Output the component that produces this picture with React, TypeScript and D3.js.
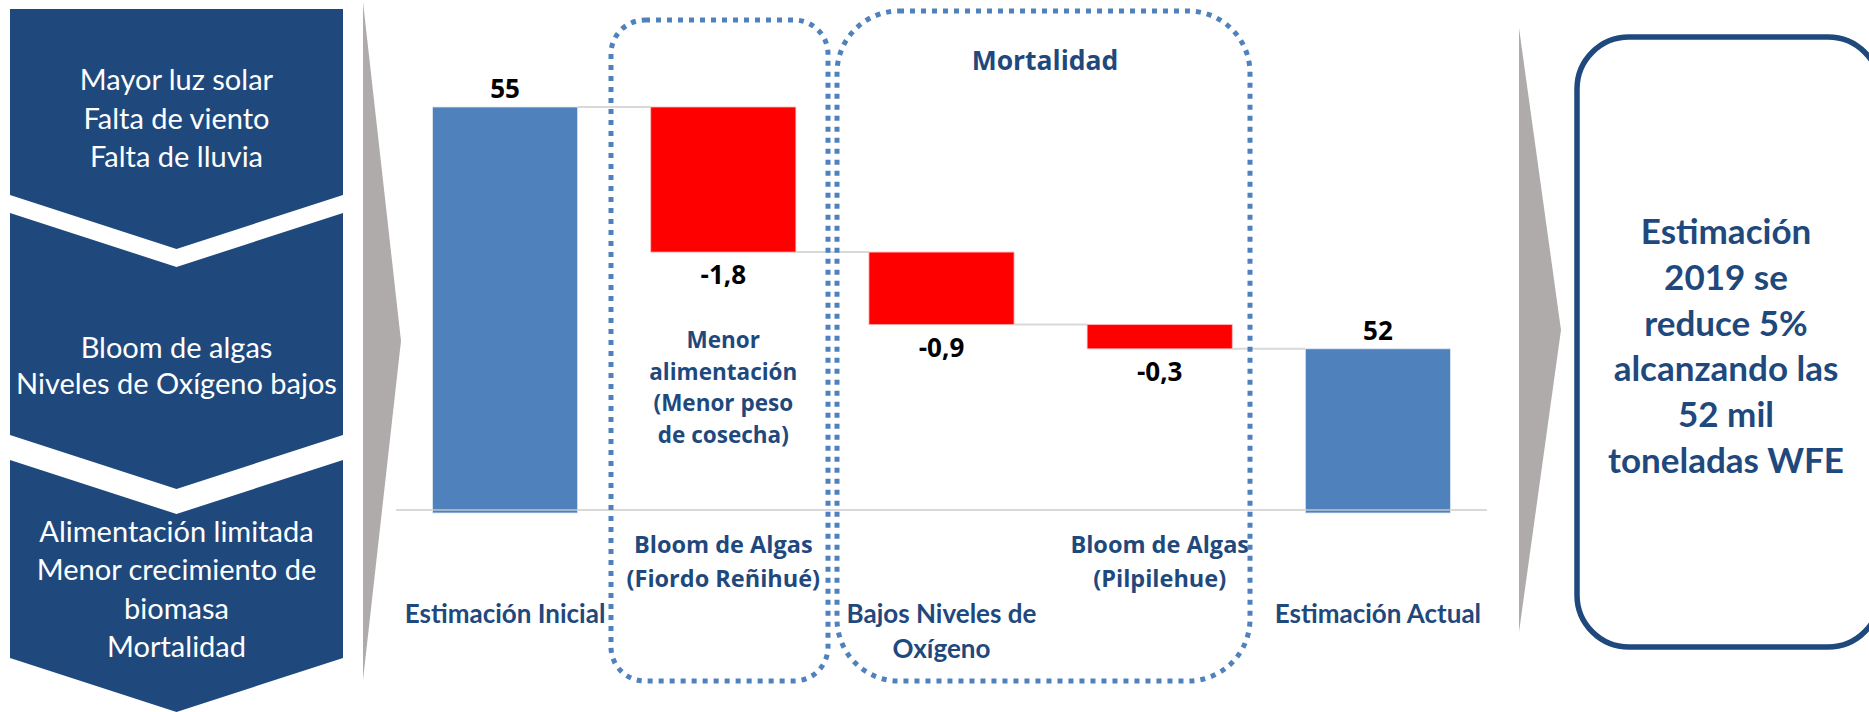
import React, { useEffect } from "react";
import * as d3 from "d3";

// ---------- data ----------
const categories = [
  "Estimación Inicial",
  "Bloom de Algas (Fiordo Reñihué)",
  "Bajos Niveles de Oxígeno",
  "Bloom de Algas (Pilpilehue)",
  "Estimación Actual",
];
const categoryLines = [
  ["Estimación Inicial"],
  ["Bloom de Algas", "(Fiordo Reñihué)"],
  ["Bajos Niveles de", "Oxígeno"],
  ["Bloom de Algas", "(Pilpilehue)"],
  ["Estimación Actual"],
];
const values = [55, -1.8, -0.9, -0.3, 52];
const isTotal = [true, false, false, false, true];
const valueLabels = ["55", "-1,8", "-0,9", "-0,3", "52"];
const yDomain = [50, 55];

const causeBlocks = [
  ["Mayor luz solar", "Falta de viento", "Falta de lluvia"],
  ["Bloom de algas", "Niveles de Oxígeno bajos"],
  ["Alimentación limitada", "Menor crecimiento de", "biomasa", "Mortalidad"],
];
const noteLines = ["Menor", "alimentación", "(Menor peso", "de cosecha)"];
const groupTitle = "Mortalidad";
const conclusionLines = [
  "Estimación",
  "2019 se",
  "reduce 5%",
  "alcanzando las",
  "52 mil",
  "toneladas WFE",
];

// ---------- styles ----------
const W = 1869;
const H = 712;
const NAVY = "#1F497D";
const BLUE = "#4F81BD";
const RED = "#FF0000";
const GRAY = "#AFABAB";
const GRID = "#D9D9D9";
const CAL = "Lato, Carlito, Calibri, sans-serif";
const TAH = "'Open Sans', Tahoma, sans-serif";

export default function App() {
  useEffect(() => {
    document.body.style.margin = "0";
  }, []);

  // waterfall computation
  const bars: { start: number; end: number; total: boolean }[] = [];
  let run = 0;
  values.forEach((v, i) => {
    if (isTotal[i]) {
      bars.push({ start: yDomain[0], end: v, total: true });
      run = v;
    } else {
      bars.push({ start: run, end: run + v, total: false });
      run = run + v;
    }
  });

  const x = d3
    .scaleBand<string>()
    .domain(categories)
    .range([396, 1487])
    .paddingInner(0.335)
    .paddingOuter(0.1675);
  const y = d3.scaleLinear().domain(yDomain).range([510, 107]);
  const bw = x.bandwidth();

  // left chevron blocks
  const lx0 = 10,
    lx1 = 343,
    lxc = (lx0 + lx1) / 2,
    depth = 54;
  const blockGeo = [
    { top: 9, notch: 0, bottom: 195 },
    { top: 213, notch: depth, bottom: 435 },
    { top: 460, notch: depth, bottom: 658 },
  ];
  const blockTextY = [
    [80, 119, 157],
    [348, 384],
    [532, 570, 609, 647],
  ];
  const chevron = (g: { top: number; notch: number; bottom: number }) => {
    const p = d3.path();
    p.moveTo(lx0, g.top);
    p.lineTo(lxc, g.top + g.notch);
    p.lineTo(lx1, g.top);
    p.lineTo(lx1, g.bottom);
    p.lineTo(lxc, g.bottom + depth);
    p.lineTo(lx0, g.bottom);
    p.closePath();
    return p.toString();
  };

  const arrow = (xl: number, xt: number, yt: number, yb: number) => {
    const p = d3.path();
    p.moveTo(xl, yt);
    p.lineTo(xt, (yt + yb) / 2);
    p.lineTo(xl, yb);
    p.closePath();
    return p.toString();
  };

  const leftFont = 29;

  return (
    <svg width={W} height={H} style={{ display: "block", background: "#fff" }}>
      {/* left cause panel */}
      {blockGeo.map((g, i) => (
        <g key={"blk" + i}>
          <path d={chevron(g)} fill={NAVY} />
          {causeBlocks[i].map((t, j) => (
            <text
              key={j}
              x={lxc}
              y={blockTextY[i][j] + leftFont * 0.34}
              textAnchor="middle"
              fill="#fff"
              fontFamily={CAL}
              fontSize={leftFont}
            >
              {t}
            </text>
          ))}
        </g>
      ))}

      {/* gray arrows */}
      <path d={arrow(363, 401, 2, 680)} fill={GRAY} />
      <path d={arrow(1519, 1561, 28, 632)} fill={GRAY} />

      {/* axis line */}
      <line x1={396} x2={1487} y1={y(yDomain[0])} y2={y(yDomain[0])} stroke={GRID} strokeWidth={2} />

      {/* connectors */}
      {bars.slice(0, -1).map((b, i) => {
        const xa = (x(categories[i]) as number) + bw;
        const xb = x(categories[i + 1]) as number;
        return (
          <line key={"c" + i} x1={xa} x2={xb} y1={y(b.end)} y2={y(b.end)} stroke={GRID} strokeWidth={2} />
        );
      })}

      {/* bars */}
      {bars.map((b, i) => {
        const x0 = x(categories[i]) as number;
        const yt = y(Math.max(b.start, b.end));
        const yb = y(Math.min(b.start, b.end));
        return (
          <g key={"b" + i}>
            <rect
              x={x0}
              y={yt}
              width={bw}
              height={yb - yt + (b.total ? 3 : 0)}
              fill={b.total ? BLUE : RED}
              stroke={b.total ? "#DCE6F2" : "#FFB3B3"}
              strokeWidth={0.8}
            />
            {b.total && (
              <line x1={x0} x2={x0 + bw} y1={yb} y2={yb} stroke={GRID} strokeWidth={1.5} opacity={0.8} />
            )}
          </g>
        );
      })}

      {/* value labels */}
      {bars.map((b, i) => {
        const cx = (x(categories[i]) as number) + bw / 2;
        const yy = b.total ? y(b.end) - 9 : y(b.end) + 32;
        return (
          <text
            key={"v" + i}
            x={cx}
            y={yy}
            textAnchor="middle"
            fontFamily={TAH}
            fontWeight={700}
            fontSize={26}
            fill="#000"
          >
            {valueLabels[i]}
          </text>
        );
      })}

      {/* category labels (staggered) */}
      {categoryLines.map((lines, i) => {
        const cx = (x(categories[i]) as number) + bw / 2;
        const upper = i % 2 === 1;
        const fs = upper ? 23.5 : 26;
        const base = upper ? 553 : 623;
        const lh = upper ? 34 : 35;
        return (
          <text
            key={"cat" + i}
            textAnchor="middle"
            fontFamily={upper ? TAH : CAL}
            fontWeight={700}
            fontSize={fs}
            fill={NAVY}
          >
            {lines.map((t, j) => (
              <tspan key={j} x={cx} y={base + j * lh}>
                {t}
              </tspan>
            ))}
          </text>
        );
      })}

      {/* note under -1,8 */}
      <text textAnchor="middle" fontFamily={TAH} fontWeight={700} fontSize={22.5} fill={NAVY}>
        {noteLines.map((t, j) => (
          <tspan key={j} x={(x(categories[1]) as number) + bw / 2} y={348 + j * 31.7}>
            {t}
          </tspan>
        ))}
      </text>

      {/* dotted group boxes */}
      <rect x={611} y={20} width={828 - 611} height={681 - 20} rx={34} ry={34} fill="none" stroke={BLUE} strokeWidth={5} strokeDasharray="5 6" />
      <rect x={837} y={11} width={1250 - 837} height={681 - 11} rx={62} ry={62} fill="none" stroke={BLUE} strokeWidth={5} strokeDasharray="5 6" />
      <text x={1045} y={70} textAnchor="middle" fontFamily={TAH} fontWeight={700} fontSize={26.5} fill={NAVY}>
        {groupTitle}
      </text>

      {/* conclusion box */}
      <rect x={1577} y={37} width={1880 - 1577} height={610} rx={52} ry={52} fill="#fff" stroke={NAVY} strokeWidth={5.5} />
      <text textAnchor="middle" fontFamily={CAL} fontWeight={700} fontSize={35} fill={NAVY}>
        {conclusionLines.map((t, j) => (
          <tspan key={j} x={1726} y={244 + j * 45.8}>
            {t}
          </tspan>
        ))}
      </text>
    </svg>
  );
}
